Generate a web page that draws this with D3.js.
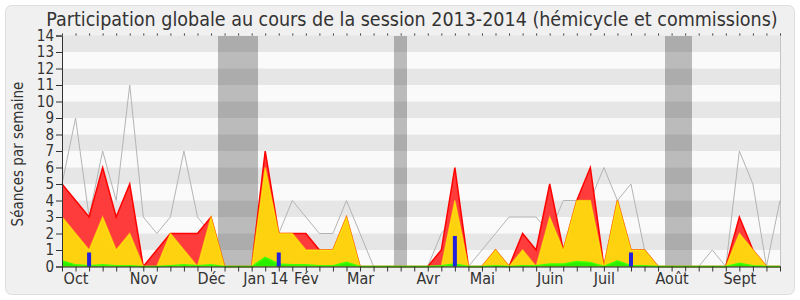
<!DOCTYPE html>
<html>
<head>
<meta charset="utf-8">
<script src="https://cdn.jsdelivr.net/npm/d3@7"></script>
<style>
  body { margin: 0; background: #fff; }
  svg { display: block; }
  text { font-family: "DejaVu Sans Condensed", "DejaVu Sans", sans-serif; fill: #333; }
</style>
</head>
<body>
<div id="chart"></div>
<script>
// weekly values, session 2013-2014 (54 weeks)
var weeks = d3.range(54);

// red: presences (hemicycle + commissions)
var presences = [5, 4, 3, 6, 3, 5, 0, 1, 2, 2, 2, 3, 0, 0, 0,
                 7, 2, 2, 2, 1, 1, 3, 0, 0, 0, 0, 0, 0,
                 1, 6, 0, 0, 1, 0, 2, 1, 5, 1, 4, 6, 0,
                 4, 1, 1, 0, 0, 0, 0, 0, 0, 3, 1, 0, 0];
// yellow: commissions
var commissions = [3, 2, 1, 3, 1, 2, 0, 0, 2, 1, 0, 3, 0, 0, 0,
                   6, 2, 2, 1, 1, 1, 3, 0, 0, 0, 0, 0, 0,
                   0, 4, 0, 0, 1, 0, 1, 0, 3, 1, 4, 4, 0,
                   4, 1, 1, 0, 0, 0, 0, 0, 0, 2, 1, 0, 0];
// green: interventions
var interventions = [0.35, 0.1, 0.05, 0.1, 0.05, 0.05, 0, 0, 0.05, 0.1, 0.05, 0.1, 0, 0, 0,
                     0.55, 0.15, 0.1, 0.1, 0.05, 0.05, 0.25, 0, 0, 0, 0, 0, 0,
                     0.05, 0.15, 0, 0, 0.05, 0, 0.05, 0.05, 0.15, 0.15, 0.3, 0.25, 0,
                     0.35, 0.05, 0.05, 0, 0, 0, 0, 0, 0, 0.2, 0.05, 0, 0];
// blue: questions orales
var questions = [0, 0, 0.85, 0, 0, 0, 0, 0, 0, 0, 0, 0, 0, 0, 0,
                 0, 0.85, 0, 0, 0, 0, 0, 0, 0, 0, 0, 0, 0,
                 0, 1.85, 0, 0, 0, 0, 0, 0, 0, 0, 0, 0, 0,
                 0, 0.85, 0, 0, 0, 0, 0, 0, 0, 0, 0, 0, 0];
// gray: median of all deputies
var mediane = [5, 9, 3, 7, 4, 11, 3, 2, 3, 7, 3, 2, 0, 0, 0,
               3, 2, 4, 3, 2, 2, 4, 2, 0, 0, 0, 0, 0,
               2, 3, 0, 1, 2, 3, 3, 3, 2, 4, 4, 4, 6,
               4, 5, 1, 0, 0, 0, 0, 1, 0, 7, 5, 0, 4];

var vacationWeeks = [12, 13, 14, 25, 45, 46];
var monthLabels = ["Oct", "Nov", "Déc", "Jan 14", "Fév", "Mar", "Avr", "Mai", "Juin", "Juil", "Août", "Sept"];
var monthWeeks = [1, 6, 11, 15, 18, 22, 27, 31, 36, 40, 45, 50];
var yTicks = d3.range(15);

var width = 800, height = 300;
var plot = { left: 62, right: 780, top: 35.5, bottom: 266.5 };

var svg = d3.select("#chart")
    .append("svg")
    .attr("width", width)
    .attr("height", height);

// panel
svg.append("rect")
    .attr("x", 5.5).attr("y", 5.5)
    .attr("width", 789).attr("height", 289)
    .attr("rx", 6)
    .attr("fill", "#f0f0f0")
    .attr("stroke", "#dedede");

var x = d3.scaleLinear()
    .domain([0, 53])
    .range([plot.left, plot.right]);

var y = d3.scaleLinear()
    .domain([0, 14])
    .range([plot.bottom, plot.top]);

var step = x(1) - x(0);

// stripes
svg.append("g")
    .selectAll("rect")
    .data(d3.range(14))
    .enter().append("rect")
    .attr("x", plot.left)
    .attr("width", plot.right - plot.left)
    .attr("y", function (k) { return y(k + 1) })
    .attr("height", function (k) { return y(k) - y(k + 1) })
    .attr("fill", function (k) { return k % 2 ? "#e6e6e6" : "#fafafa" });

// vacations
svg.append("g")
    .selectAll("rect")
    .data(vacationWeeks)
    .enter().append("rect")
    .attr("x", function (d) { return x(d - 0.5) })
    .attr("width", step)
    .attr("y", plot.top)
    .attr("height", plot.bottom - plot.top)
    .attr("fill", "#000")
    .attr("fill-opacity", 0.25)
    .attr("shape-rendering", "crispEdges");

// right border
svg.append("line")
    .attr("x1", plot.right + 0.5).attr("x2", plot.right + 0.5)
    .attr("y1", plot.top).attr("y2", plot.bottom)
    .attr("stroke", "#c4c4c4");

var line = d3.line()
    .x(function (d, i) { return x(i) })
    .y(function (d) { return y(d) });

var area = d3.area()
    .x(function (d, i) { return x(i) })
    .y0(y(0))
    .y1(function (d) { return y(d) });

svg.append("path")
    .datum(mediane)
    .attr("fill", "none")
    .attr("stroke", "#b4b4b4")
    .attr("stroke-width", 1)
    .attr("d", line);

function layer(data, fill, stroke, op) {
    svg.append("path")
        .datum(data)
        .attr("fill", fill)
        .attr("d", area);
    svg.append("path")
        .datum(data)
        .attr("fill", "none")
        .attr("stroke", stroke)
        .attr("stroke-opacity", op)
        .attr("stroke-width", 1.5)
        .attr("d", line);
}

layer(presences, "#ff3c3c", "#ff0000", 1);
layer(commissions, "#ffd20f", "#ffff00", 0.5);
layer(interventions, "#2af000", "#44ff00", 1);

// questions
svg.append("g")
    .selectAll("rect")
    .data(weeks.filter(function (i) { return questions[i] > 0 }))
    .enter().append("rect")
    .attr("x", function (i) { return x(i) - 2 })
    .attr("width", 4)
    .attr("y", function (i) { return y(questions[i]) })
    .attr("height", function (i) { return y(0) - y(questions[i]) })
    .attr("fill", "#2222dd");

// axes
var yAxis = svg.append("g")
    .attr("transform", "translate(" + plot.left + ",0)")
    .call(d3.axisLeft(y).tickValues(yTicks).tickSize(6).tickPadding(2).tickFormat(d3.format("d")));
yAxis.selectAll("text").style("font-size", "15px").attr("fill", "#333");
yAxis.selectAll("line").attr("stroke", "#333");
yAxis.select(".domain").attr("stroke", "#333");

var xAxis = svg.append("g")
    .attr("transform", "translate(0," + plot.bottom + ")")
    .call(d3.axisBottom(x).tickValues(weeks).tickSize(5).tickFormat(""));
xAxis.select(".domain").attr("stroke", "#222").attr("d", "M" + plot.left + ",0.5H" + (plot.right + 1));
xAxis.selectAll("line").attr("stroke", "#333");

var monthAxis = svg.append("g")
    .attr("transform", "translate(0," + plot.bottom + ")")
    .call(d3.axisBottom(x).tickValues(monthWeeks).tickSize(0).tickPadding(6)
        .tickFormat(function (d, i) { return monthLabels[i] }));
monthAxis.select(".domain").remove();
monthAxis.selectAll("text").style("font-size", "16px").attr("fill", "#333");

var topAxis = svg.append("g")
    .attr("transform", "translate(0," + plot.top + ")")
    .call(d3.axisTop(x).tickValues(weeks).tickSize(2).tickFormat(""));
topAxis.select(".domain").remove();
topAxis.selectAll("line").attr("stroke", "#333");

// titles
svg.append("text")
    .attr("x", 412)
    .attr("y", 25.5)
    .attr("text-anchor", "middle")
    .style("font-size", "19.5px")
    .text("Participation globale au cours de la session 2013-2014 (hémicycle et commissions)");

svg.append("text")
    .attr("transform", "translate(23,154) rotate(-90)")
    .attr("text-anchor", "middle")
    .style("font-size", "15px")
    .text("Séances par semaine");
</script>
</body>
</html>
